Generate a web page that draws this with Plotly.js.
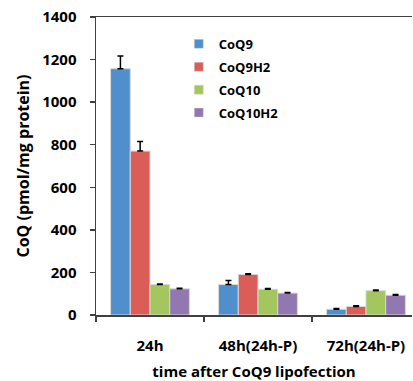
<!DOCTYPE html>
<html><head><meta charset="utf-8">
<script src="https://cdn.plot.ly/plotly-3.0.1.min.js"></script>
<style>html,body{margin:0;padding:0;background:#fff}</style>
</head><body>
<div id="chart" style="width:413px;height:381px"></div>
<script>
const categories = ["24h", "48h(24h-P)", "72h(24h-P)"];
const seriesNames = ["CoQ9", "CoQ9H2", "CoQ10", "CoQ10H2"];
const coq9 = [1157, 143, 27];
const coq9h2 = [770, 190, 40];
const coq10 = [143, 121, 114];
const coq10h2 = [123, 103, 93];
const err9 = [60, 19, 4];
const err9h2 = [45, 4, 4];
const err10 = [3, 3, 3];
const err10h2 = [3, 3, 3];
const colors = ["#4F8FCC", "#DA5D57", "#A3C75E", "#9178B1"];

const vals = [coq9, coq9h2, coq10, coq10h2];
const errs = [err9, err9h2, err10, err10h2];
const font = "'Open Sans', 'DejaVu Sans', sans-serif";

const bars = seriesNames.map((n, i) => ({
  type: "bar",
  name: n,
  legendgroup: n,
  showlegend: false,
  x: categories,
  y: vals[i],
  marker: {color: colors[i], line: {color: "#d8d8d8", width: 1}},
  error_y: {type: "data", array: errs[i], arrayminus: errs[i].map(() => 0), symmetric: false,
            color: "#000", thickness: 1.5, width: 3}
}));
// legend entries with small square swatches, as in the reference
const legendItems = seriesNames.map((n, i) => ({
  type: "scatter", mode: "markers", name: n, legendgroup: n,
  x: [null], y: [null],
  marker: {symbol: "square", size: 9, color: colors[i], line: {color: "#d8d8d8", width: 0.5}},
  hoverinfo: "skip"
}));

const layout = {
  width: 413, height: 381,
  margin: {l: 96, r: 1, t: 17, b: 66},
  paper_bgcolor: "#fff", plot_bgcolor: "#fff",
  barmode: "group", bargap: 0.27, bargroupgap: 0,
  showlegend: true,
  legend: {x: 0.262, y: 0.96, xanchor: "left", yanchor: "top", bgcolor: "rgba(0,0,0,0)",
           font: {family: font, size: 13, color: "#000", weight: "bold"}, tracegroupgap: 3,
           itemwidth: 30},
  xaxis: {
    type: "category", range: [-0.5, 2.426],
    showline: true, linecolor: "#404040", linewidth: 1.5, mirror: true,
    ticks: "outside", ticklen: 5, tickcolor: "#404040", tickwidth: 1.5, tickson: "boundaries",
    showgrid: false, zeroline: false,
    tickfont: {family: font, size: 15, color: "#000", weight: "bold"},
    ticklabelstandoff: 16,
    title: {text: "time after CoQ9 lipofection", font: {family: font, size: 15, color: "#000", weight: "bold"}, standoff: 14}
  },
  yaxis: {
    range: [0, 1400], dtick: 200,
    showline: true, linecolor: "#404040", linewidth: 1.5,
    ticks: "outside", ticklen: 5, tickcolor: "#404040", tickwidth: 1.5,
    showgrid: false, zeroline: false,
    tickfont: {family: font, size: 15, color: "#000", weight: "bold"},
    ticklabelstandoff: 10,
    title: {text: "CoQ (pmol/mg protein)", font: {family: font, size: 16, color: "#000", weight: "bold"}, standoff: 8}
  }
};

Plotly.newPlot("chart", bars.concat(legendItems), layout, {displayModeBar: false, staticPlot: true});
</script>
</body></html>
